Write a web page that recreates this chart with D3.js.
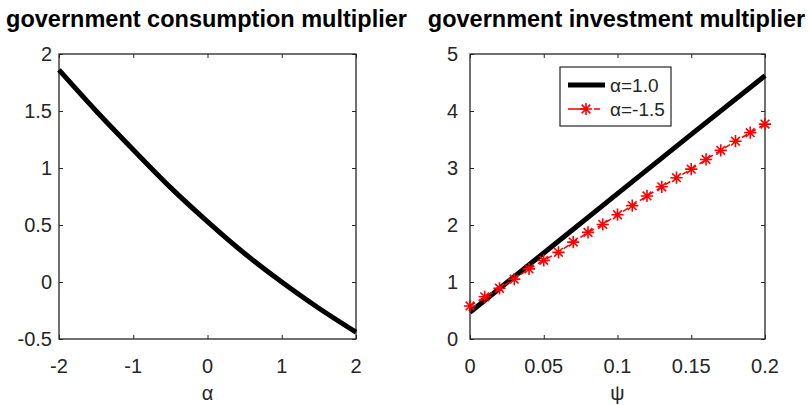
<!DOCTYPE html>
<html>
<head>
<meta charset="utf-8">
<script src="https://cdn.jsdelivr.net/npm/d3@7"></script>
<style>
  body { margin: 0; background: #fff; }
  svg { display: block; }
  text { font-family: "Liberation Sans", Arial, sans-serif; fill: #262626; }
  .title { font-weight: bold; font-size: 23.5px; fill: #000; }
  .tick-label { font-size: 20px; }
  .legend-label { font-size: 19px; }
  .axis-label { font-size: 20px; }
</style>
</head>
<body>
<div id="chart"></div>
<script>
// left panel: consumption multiplier vs alpha
const alphaValues = [-2, -1.5, -1, -0.5, 0, 0.5, 1, 1.5, 2];
const consumptionMult = [1.86, 1.50, 1.16, 0.83, 0.53, 0.25, 0.0, -0.23, -0.44];

// right panel: investment multiplier vs psi
const psiBlack = [0, 0.05, 0.1, 0.15, 0.2];
const investAlpha1 = [0.47, 1.51, 2.55, 3.59, 4.62];
const psiRed = [0, 0.01, 0.02, 0.03, 0.04, 0.05, 0.06, 0.07, 0.08, 0.09, 0.1,
  0.11, 0.12, 0.13, 0.14, 0.15, 0.16, 0.17, 0.18, 0.19, 0.2];
const investAlphaM15 = [0.58, 0.74, 0.89, 1.05, 1.23, 1.38, 1.52, 1.70, 1.87, 2.01, 2.18,
  2.34, 2.51, 2.67, 2.83, 2.98, 3.15, 3.31, 3.47, 3.62, 3.77];

const leftXTicks = [-2, -1, 0, 1, 2];
const leftYTicks = [-0.5, 0, 0.5, 1, 1.5, 2];
const rightXTicks = [0, 0.05, 0.1, 0.15, 0.2];
const rightYTicks = [0, 1, 2, 3, 4, 5];
const legendLabels = ['α=1.0', 'α=-1.5'];

const width = 810, height = 405;
const svg = d3.select('#chart').append('svg')
  .attr('width', width)
  .attr('height', height);

// 8-spoke asterisk, like the octave '*' marker
const asterisk = {
  draw(ctx, size) {
    const r = Math.sqrt(size) / 2;
    const d = r * Math.SQRT1_2;
    ctx.moveTo(-r, 0); ctx.lineTo(r, 0);
    ctx.moveTo(0, -r); ctx.lineTo(0, r);
    ctx.moveTo(-d, -d); ctx.lineTo(d, d);
    ctx.moveTo(-d, d); ctx.lineTo(d, -d);
  }
};
const starPath = d3.symbol().type(asterisk).size(150)();

// plain hyphen minus, like the original
const fmt = d => String(d);

function drawAxes(opts) {
  const {x, y, xTicks, yTicks, title, xLabel, yGap} = opts;
  const g = svg.append('g');
  const [x0, x1] = x.range();
  const [y0, y1] = y.range();

  // inward ticks on all four sides
  const tl = 4;
  g.append('g').attr('transform', `translate(0,${y0})`)
    .call(d3.axisBottom(x).tickValues(xTicks).tickSize(-tl).tickFormat(''));
  g.append('g').attr('transform', `translate(0,${y1})`)
    .call(d3.axisTop(x).tickValues(xTicks).tickSize(-tl).tickFormat(''));
  g.append('g').attr('transform', `translate(${x0},0)`)
    .call(d3.axisLeft(y).tickValues(yTicks).tickSize(-tl).tickFormat(''));
  g.append('g').attr('transform', `translate(${x1},0)`)
    .call(d3.axisRight(y).tickValues(yTicks).tickSize(-tl).tickFormat(''));
  g.selectAll('.domain').remove();
  g.selectAll('.tick line').attr('stroke', '#262626').attr('stroke-width', 1);

  g.append('rect')
    .attr('x', x0).attr('y', y1)
    .attr('width', x1 - x0).attr('height', y0 - y1)
    .attr('fill', 'none').attr('stroke', '#262626').attr('stroke-width', 1.3);

  g.selectAll('.xl').data(xTicks).enter().append('text')
    .attr('class', 'tick-label')
    .attr('x', d => x(d)).attr('y', y0 + 34)
    .attr('text-anchor', 'middle')
    .text(fmt);

  g.selectAll('.yl').data(yTicks).enter().append('text')
    .attr('class', 'tick-label')
    .attr('x', x0 - yGap).attr('y', d => y(d) + 7)
    .attr('text-anchor', 'end')
    .text(fmt);

  g.append('text').attr('class', 'axis-label')
    .attr('x', (x0 + x1) / 2).attr('y', y0 + 61)
    .attr('text-anchor', 'middle').text(xLabel);

  svg.append('text').attr('class', 'title')
    .attr('x', (x0 + x1) / 2 - 1).attr('y', 27)
    .attr('text-anchor', 'middle').text(title);
}

// ---- left plot
const xL = d3.scaleLinear().domain([-2, 2]).range([59, 356]);
const yL = d3.scaleLinear().domain([-0.5, 2]).range([339, 54]);

drawAxes({
  x: xL, y: yL, xTicks: leftXTicks, yTicks: leftYTicks,
  title: 'government consumption multiplier', xLabel: 'α', yGap: 7
});

svg.append('path')
  .datum(alphaValues.map((a, i) => [a, consumptionMult[i]]))
  .attr('fill', 'none')
  .attr('stroke', '#000')
  .attr('stroke-width', 5)
  .attr('d', d3.line().x(d => xL(d[0])).y(d => yL(d[1])).curve(d3.curveNatural));

// ---- right plot
const xR = d3.scaleLinear().domain([0, 0.2]).range([470, 765]);
const yR = d3.scaleLinear().domain([0, 5]).range([339, 54]);

drawAxes({
  x: xR, y: yR, xTicks: rightXTicks, yTicks: rightYTicks,
  title: 'government investment multiplier', xLabel: 'ψ', yGap: 12
});

const lineR = d3.line().x(d => xR(d[0])).y(d => yR(d[1]));

svg.append('path')
  .datum(psiBlack.map((p, i) => [p, investAlpha1[i]]))
  .attr('fill', 'none')
  .attr('stroke', '#000')
  .attr('stroke-width', 5)
  .attr('d', lineR);

const redData = psiRed.map((p, i) => [p, investAlphaM15[i]]);
svg.append('path')
  .datum(redData)
  .attr('fill', 'none')
  .attr('stroke', '#ff0000')
  .attr('stroke-width', 1.5)
  .attr('stroke-dasharray', '6,4')
  .attr('d', lineR);

svg.selectAll('.star').data(redData).enter().append('path')
  .attr('class', 'star')
  .attr('transform', d => `translate(${xR(d[0])},${yR(d[1])})`)
  .attr('d', starPath)
  .attr('fill', 'none')
  .attr('stroke', '#ff0000')
  .attr('stroke-width', 1.6);

// ---- legend
const legend = svg.append('g').attr('transform', 'translate(560,67)');
legend.append('rect')
  .attr('width', 111).attr('height', 59)
  .attr('fill', '#fff').attr('stroke', '#262626').attr('stroke-width', 1.2);

legend.append('line')
  .attr('x1', 8).attr('x2', 45).attr('y1', 18).attr('y2', 18)
  .attr('stroke', '#000').attr('stroke-width', 5);
legend.append('line')
  .attr('x1', 8).attr('x2', 45).attr('y1', 42).attr('y2', 42)
  .attr('stroke', '#ff0000').attr('stroke-width', 1.5)
  .attr('stroke-dasharray', '20,6,6,6');
legend.append('path')
  .attr('transform', 'translate(26,42)')
  .attr('d', starPath)
  .attr('fill', 'none').attr('stroke', '#ff0000').attr('stroke-width', 1.6);

legend.selectAll('.lt').data(legendLabels).enter().append('text')
  .attr('class', 'legend-label')
  .attr('x', 50).attr('y', (d, i) => 25 + i * 24)
  .text(d => d);
</script>
</body>
</html>
